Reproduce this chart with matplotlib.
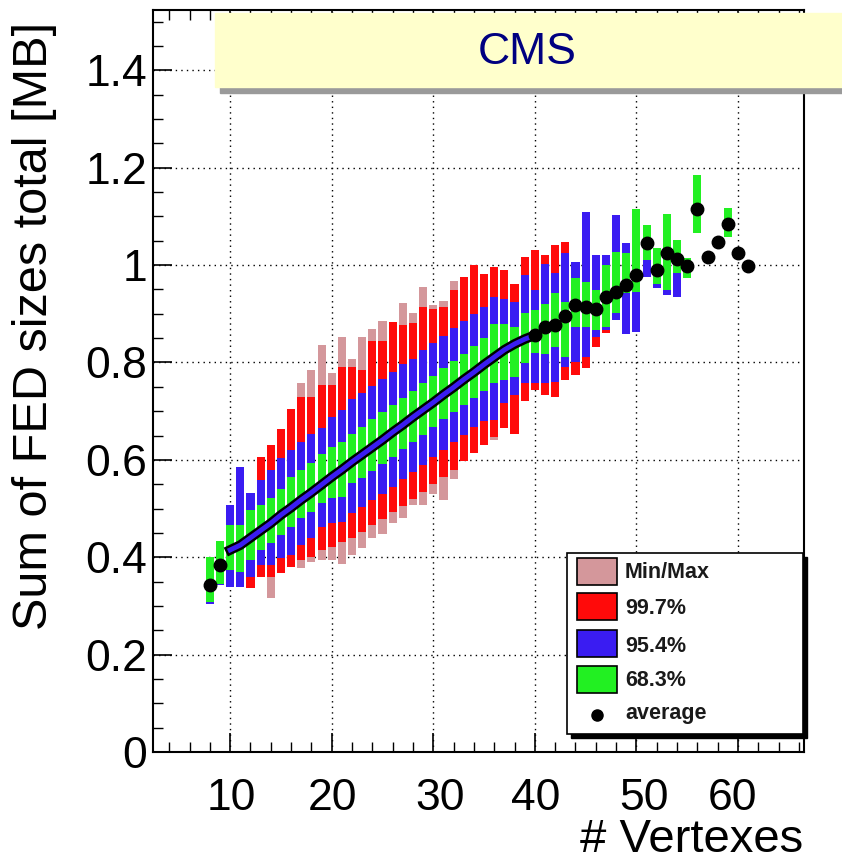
import numpy as np
import matplotlib
matplotlib.use("Agg")
import matplotlib.pyplot as plt
from matplotlib.patches import Rectangle
from matplotlib.lines import Line2D
import matplotlib.patheffects as pe

plt.rcParams['font.family'] = ['Liberation Sans', 'DejaVu Sans']

nan = np.nan
vertexes = list(range(8, 62))
average = [0.343, 0.384, 0.415, 0.425, 0.440, 0.455, 0.470, 0.487, 0.502, 0.518,
           0.533, 0.549, 0.565, 0.580, 0.596, 0.611, 0.626, 0.641, 0.657, 0.672,
           0.688, 0.703, 0.718, 0.734, 0.749, 0.765, 0.780, 0.796, 0.811, 0.826,
           0.838, 0.848, 0.856, 0.873, 0.877, 0.896, 0.918, 0.914, 0.909, 0.935,
           0.945, 0.959, 0.979, 1.046, 0.990, 1.025, 1.013, 0.998, 1.116, 1.017,
           1.048, 1.084, 1.025, 0.998]
s683_lo = [0.309, 0.346, 0.374, 0.370, 0.394, 0.415, 0.429, 0.446, 0.463, 0.480,
           0.493, 0.511, 0.522, 0.524, 0.552, 0.562, 0.578, 0.592, 0.606, 0.622,
           0.636, 0.652, 0.667, 0.683, 0.698, 0.713, 0.728, 0.742, 0.757, 0.764,
           0.771, 0.798, 0.820, 0.818, 0.832, 0.811, 0.873, 0.873, 0.866, 0.873,
           0.901, 0.942, 0.945, 1.010, 0.962, 0.949, 0.983, 0.973, 1.065, nan,
           nan, 1.058, nan, nan]
s683_hi = [0.401, 0.434, 0.466, 0.466, 0.497, 0.507, 0.522, 0.541, 0.565, 0.579,
           0.593, 0.613, 0.627, 0.637, 0.654, 0.668, 0.684, 0.698, 0.712, 0.728,
           0.742, 0.757, 0.772, 0.788, 0.803, 0.818, 0.834, 0.850, 0.880, 0.880,
           0.873, 0.901, 0.908, 0.921, 0.942, 0.925, 0.973, 0.965, 0.948, 1.000,
           1.027, 1.024, 1.116, 1.082, 1.036, 1.106, 1.051, 1.014, 1.185, nan,
           nan, 1.118, nan, nan]
s954_lo = [0.305, 0.343, 0.339, 0.339, 0.360, 0.384, 0.384, 0.398, 0.405, 0.425,
           0.439, 0.463, 0.470, 0.473, 0.490, 0.503, 0.518, 0.530, 0.545, 0.560,
           0.575, 0.590, 0.605, 0.620, 0.637, 0.652, 0.668, 0.680, 0.682, 0.716,
           0.733, 0.757, 0.757, 0.757, 0.760, 0.791, 0.801, 0.811, 0.853, 0.866,
           0.887, 0.858, 0.863, 0.976, 0.952, 0.938, 0.935, 0.973, 1.065, nan,
           nan, 1.058, nan, nan]
s954_hi = [0.401, 0.434, 0.507, 0.586, 0.531, 0.559, 0.579, 0.603, 0.620, 0.637,
           0.654, 0.665, 0.689, 0.702, 0.726, 0.737, 0.752, 0.766, 0.780, 0.796,
           0.808, 0.825, 0.840, 0.855, 0.870, 0.885, 0.900, 0.915, 0.935, 0.931,
           0.925, 0.979, 0.948, 1.003, 0.983, 1.024, 1.007, 1.109, 1.020, 1.020,
           1.103, 1.045, 1.116, 1.082, 1.036, 1.106, 1.051, 1.014, 1.185, nan,
           nan, 1.118, nan, nan]
s997_lo = [0.305, 0.343, 0.339, 0.339, 0.336, 0.360, 0.360, 0.367, 0.379, 0.394,
           0.401, 0.415, 0.422, 0.432, 0.440, 0.452, 0.466, 0.478, 0.492, 0.505,
           0.520, 0.535, 0.550, 0.565, 0.580, 0.598, 0.615, 0.630, 0.647, 0.665,
           0.654, 0.721, 0.743, 0.733, 0.730, 0.764, 0.774, 0.788, 0.832, 0.860,
           0.887, 0.858, 0.863, 0.976, 0.952, 0.938, 0.935, 0.973, 1.065, nan,
           nan, 1.058, nan, nan]
s997_hi = [0.401, 0.434, 0.507, 0.586, 0.531, 0.606, 0.630, 0.663, 0.704, 0.730,
           0.730, 0.754, 0.754, 0.791, 0.791, 0.784, 0.844, 0.844, 0.883, 0.878,
           0.881, 0.914, 0.910, 0.914, 0.949, 0.976, 1.000, 0.981, 0.997, 0.991,
           0.962, 1.016, 1.032, 1.020, 1.041, 1.048, 1.007, 1.109, 1.020, 1.020,
           1.103, 1.045, 1.116, 1.082, 1.036, 1.106, 1.051, 1.014, 1.185, nan,
           nan, 1.118, nan, nan]
minmax_lo = [0.305, 0.343, 0.339, 0.339, 0.336, 0.360, 0.316, 0.367, 0.379, 0.377,
             0.391, 0.394, 0.394, 0.387, 0.405, 0.420, 0.440, 0.448, 0.470, 0.480,
             0.507, 0.507, 0.530, 0.517, 0.560, 0.598, 0.615, 0.630, 0.640, 0.665,
             0.654, 0.721, 0.743, 0.733, 0.730, 0.764, 0.774, 0.788, 0.832, 0.860,
             0.887, 0.858, 0.863, 0.976, 0.952, 0.938, 0.935, 0.973, 1.065, nan,
             nan, 1.058, nan, nan]
minmax_hi = [0.401, 0.434, 0.507, 0.586, 0.531, 0.606, 0.630, 0.663, 0.704, 0.757,
             0.784, 0.836, 0.778, 0.853, 0.808, 0.853, 0.868, 0.885, 0.883, 0.923,
             0.902, 0.955, 0.919, 0.926, 0.967, 0.976, 1.000, 0.981, 0.997, 0.991,
             0.962, 1.016, 1.032, 1.020, 1.041, 1.048, 1.007, 1.109, 1.020, 1.020,
             1.103, 1.045, 1.116, 1.082, 1.036, 1.106, 1.051, 1.014, 1.185, nan,
             nan, 1.118, nan, nan]

x_ticks = [10, 20, 30, 40, 50, 60]
x_ticklabels = ['10', '20', '30', '40', '50', '60']
y_ticks = [0, 0.2, 0.4, 0.6, 0.8, 1.0, 1.2, 1.4]
y_ticklabels = ['0', '0.2', '0.4', '0.6', '0.8', '1', '1.2', '1.4']
legend_labels = ['Min/Max', '99.7%', '95.4%', '68.3%', 'average']

c_pink = '#d4979b'
c_red = '#ff0a0a'
c_blue = '#3a1cf2'
c_green = '#22f022'

W, H = 842, 863
fig = plt.figure(figsize=(W / 100, H / 100), dpi=100)
L, R, T, B = 153, 804, 10, 752
ax = fig.add_axes([L / W, 1 - B / H, (R - L) / W, (B - T) / H])
ax.set_xlim(2.4, 66.5)
ax.set_ylim(0, 1.524)

x = np.array(vertexes, dtype=float)
bw = 0.8
for lo, hi, col in [(minmax_lo, minmax_hi, c_pink), (s997_lo, s997_hi, c_red),
                    (s954_lo, s954_hi, c_blue), (s683_lo, s683_hi, c_green)]:
    lo = np.array(lo); hi = np.array(hi)
    m = ~np.isnan(lo)
    ax.bar(x[m], hi[m] - lo[m], bottom=lo[m], width=bw, color=col, linewidth=0, zorder=3)

avg = np.array(average)
line_m = (x >= 10) & (x <= 40)
ax.plot(x[line_m], avg[line_m], color=c_blue, lw=3.5, zorder=5,
        path_effects=[pe.Stroke(linewidth=7, foreground='black'), pe.Normal()])
ax.plot(x[line_m], avg[line_m], 'o', color='black', ms=4, zorder=4)
dot_m = (x < 10) | (x >= 40)
ax.plot(x[dot_m], avg[dot_m], 'o', color='black', ms=9, zorder=6)

ax.set_xticks(x_ticks)
ax.set_xticklabels([])
ax.set_xticks(np.arange(4, 67, 2), minor=True)
ax.set_yticks(y_ticks)
ax.set_yticklabels(y_ticklabels)
ax.set_yticks(np.arange(0, 1.52, 0.05), minor=True)
ax.tick_params(axis='both', which='major', direction='in', length=14, width=1.2,
               labelsize=32, top=True)
ax.tick_params(axis='both', which='minor', direction='in', length=7, width=1.0, top=True)
ax.tick_params(axis='y', which='major', pad=4)
ax.grid(True, which='major', color='black', linestyle=(0, (1, 3)), linewidth=1.0, zorder=1)
ax.set_axisbelow(True)
for s in ax.spines.values():
    s.set_linewidth(1.5)

# x tick labels (slide text, slightly offset from the grid as in the original)
label_px = [231, 333, 440, 536, 644, 733]
for lab, px in zip(x_ticklabels, label_px):
    fig.text(px / W, 1 - 798 / H, lab, ha='center', va='center', fontsize=32)

# Axis titles
fig.text(35 / W, 1 - 326 / H, 'Sum of FED sizes total [MB]', rotation=90,
         ha='center', va='center', fontsize=35)
fig.text(803 / W, 1 - 840 / H, '# Vertexes', ha='right', va='center', fontsize=34)

# CMS banner
fig.add_artist(Rectangle((220 / W, 1 - 93 / H), (W - 220) / W, 8 / H,
                         transform=fig.transFigure, color='#9a9a9a', zorder=10))
fig.add_artist(Rectangle((215 / W, 1 - 87 / H), (W - 215) / W, 74 / H,
                         transform=fig.transFigure, color='#ffffcc', zorder=11))
fig.text(527 / W, 1 - 52 / H, 'CMS', ha='center', va='center', fontsize=32,
         color='#000080', zorder=12)

# Legend
lx0, ly0, lx1, ly1 = 567, 553, 803, 734
def fx(px):
    return px / W
def fy(py):
    return 1 - py / H
fig.add_artist(Rectangle((fx(lx0 + 4), fy(ly1 + 4)), (lx1 - lx0) / W, (ly1 - ly0) / H,
                         transform=fig.transFigure, facecolor='black', edgecolor='black', zorder=10))
fig.add_artist(Rectangle((fx(lx0), fy(ly1)), (lx1 - lx0) / W, (ly1 - ly0) / H,
                         transform=fig.transFigure, facecolor='white', edgecolor='black',
                         linewidth=1.2, zorder=11))
sw_cols = [c_pink, c_red, c_blue, c_green]
sw_tops = [558, 593, 630, 666]
text_y = [573, 608, 646, 681, 713]
for col, top in zip(sw_cols, sw_tops):
    fig.add_artist(Rectangle((fx(577), fy(top + 27)), 40 / W, 27 / H,
                             transform=fig.transFigure, facecolor=col, edgecolor='black',
                             linewidth=1.2, zorder=12))
fig.add_artist(Line2D([fx(597)], [fy(715)], marker='o', color='black', markersize=8,
                      transform=fig.transFigure, zorder=12))
for lab, ty in zip(legend_labels, text_y):
    fig.text(fx(625), fy(ty), lab, ha='left', va='center', fontsize=15.5,
             fontweight='bold', color='#1a1a1a', zorder=12)

fig.savefig('out.png', dpi=100)
